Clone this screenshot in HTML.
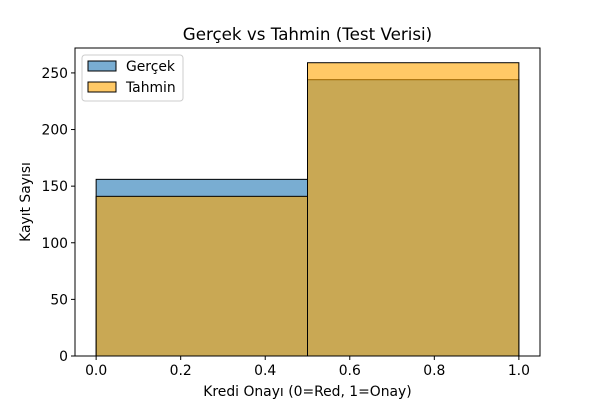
<!DOCTYPE html>
<html><head><meta charset="utf-8">
<style>
html,body{margin:0;padding:0;background:#fff;}
svg text{font-family:"DejaVu Sans","Liberation Sans",sans-serif;fill:#000;}
</style></head>
<body>
<svg id="chart" width="600" height="400" viewBox="0 0 600 400" xmlns="http://www.w3.org/2000/svg"></svg>
<script>
const binEdges = [0, 0.5, 1.0];
const gercekCounts = [156, 244];
const tahminCounts = [141, 259];
const xTicks = [0.0, 0.2, 0.4, 0.6, 0.8, 1.0];
const yTicks = [0, 50, 100, 150, 200, 250];

const L = 75, R = 540, T = 48, B = 356;
const xMin = -0.05, xMax = 1.05, yMin = 0, yMax = 272;
const xs = v => L + (v - xMin) / (xMax - xMin) * (R - L);
const ys = v => B - (v - yMin) / (yMax - yMin) * (B - T);
const NS = "http://www.w3.org/2000/svg";
const svg = document.getElementById('chart');
function mk(tag, attrs, parent) {
  const e = document.createElementNS(NS, tag);
  for (const k in attrs) e.setAttribute(k, attrs[k]);
  (parent || svg).appendChild(e);
  return e;
}

function drawSeries(counts, color, name) {
  const g = mk('g', {});
  
  
  counts.forEach((c, i) => {
    const x0 = xs(binEdges[i]), x1 = xs(binEdges[i + 1]);
    const r = mk('rect', {x: x0, y: ys(c), width: x1 - x0, height: ys(0) - ys(c),
      fill: color, 'fill-opacity': 0.6, stroke: '#000', 'stroke-width': 1}, g);
    
    
  });
}
drawSeries(gercekCounts, '#1f77b4', 'gercek');
drawSeries(tahminCounts, '#ffa500', 'tahmin');

const frame = mk('rect', {x: L, y: T, width: R - L, height: B - T, fill: 'none', stroke: '#000', 'stroke-width': 1});



xTicks.forEach(v => {
  const x = xs(v);
  mk('line', {x1: x, x2: x, y1: B, y2: B + 4, stroke: '#000'});
  const t = mk('text', {x: x, y: B + 19, 'font-size': 13.9, 'text-anchor': 'middle'});
  t.textContent = v.toFixed(1);
  
  
});
yTicks.forEach(v => {
  const y = ys(v);
  mk('line', {x1: L - 4, x2: L, y1: y, y2: y, stroke: '#000'});
  const t = mk('text', {x: L - 7, y: y + 5, 'font-size': 13.9, 'text-anchor': 'end'});
  t.textContent = v;
  
  
});

const title = mk('text', {x: (L + R) / 2, y: 40, 'font-size': 16.7, 'text-anchor': 'middle'});
title.textContent = 'Gerçek vs Tahmin (Test Verisi)';



const xl = mk('text', {x: (L + R) / 2, y: 396, 'font-size': 13.9, 'text-anchor': 'middle'});
xl.textContent = 'Kredi Onayı (0=Red, 1=Onay)';



const yl = mk('text', {x: 30, y: (T + B) / 2, 'font-size': 13.9, 'text-anchor': 'middle', transform: 'rotate(-90 30 ' + ((T + B) / 2) + ')'});
yl.textContent = 'Kayıt Sayısı';



const lg = mk('g', {});


mk('rect', {x: 82, y: 55, width: 101, height: 46, rx: 3, fill: '#fff', 'fill-opacity': 0.8, stroke: '#ccc'}, lg);
[['Gerçek', '#1f77b4', 66], ['Tahmin', '#ffa500', 87]].forEach(([n, c, y]) => {
  const e = mk('g', {}, lg);
  
  
  mk('rect', {x: 88, y: y - 5, width: 28, height: 10, fill: c, 'fill-opacity': 0.6, stroke: '#000'}, e);
  const t = mk('text', {x: 126, y: y + 5, 'font-size': 13.9}, e);
  t.textContent = n;
});
</script>
</body></html>
